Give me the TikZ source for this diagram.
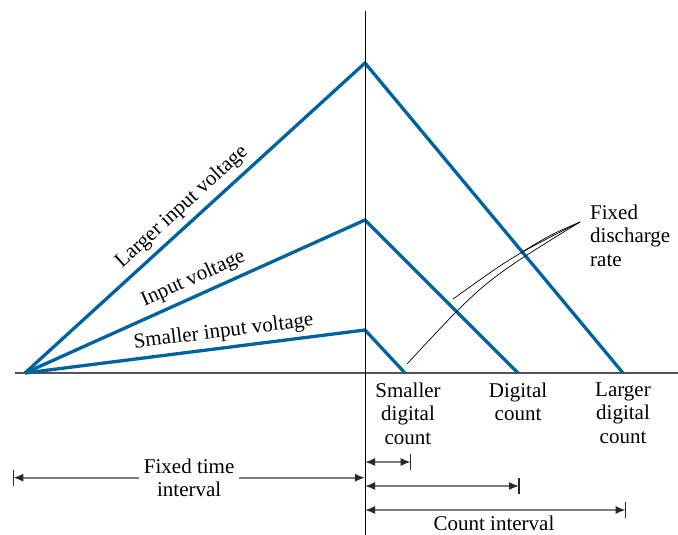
\documentclass[tikz,border=0pt]{standalone}
\usepackage{fontspec}
\setmainfont{Liberation Serif}
\usetikzlibrary{arrows.meta}
\definecolor{voltblue}{RGB}{0,99,158}
\definecolor{dimgrey}{RGB}{125,125,125}
\definecolor{tipgrey}{RGB}{40,40,40}
\definecolor{axisgrey}{RGB}{85,85,85}
\tikzset{
  volt/.style={draw=voltblue, line width=3.3pt, line join=miter},
  haxis/.style={draw=axisgrey, line width=2pt},
  vaxis/.style={draw=black, line width=1pt},
  dimline/.style={draw=dimgrey, line width=1.6pt,
    {Latex[length=10pt,width=8pt,color=tipgrey]}-{Latex[length=10pt,width=8pt,color=tipgrey]}},
  dimbar/.style={draw=tipgrey, line width=1.5pt},
  leader/.style={draw=black, line width=0.7pt},
  lbl/.style={font=\fontsize{21}{23.5}\selectfont, inner sep=0pt, align=center},
  slopelbl/.style={font=\fontsize{21}{23.5}\selectfont, sloped, inner sep=0pt}
}
\begin{document}
\begin{tikzpicture}[x=1pt,y=-1pt]
\useasboundingbox (0,0) rectangle (678,535);
% key points
\coordinate (O) at (25,373);
\coordinate (PL) at (365,63);
\coordinate (EL) at (623,373);
\coordinate (PI) at (365,220);
\coordinate (EI) at (518,373);
\coordinate (PS) at (365,330);
\coordinate (ES) at (405,373);
\coordinate (HA) at (15,373);
\coordinate (HB) at (678,373);
\coordinate (VA) at (365,11);
\coordinate (VB) at (365,535);
% horizontal axis
\draw[haxis] (HA) -- (HB);
% voltage ramps
\draw[volt] (O) -- node[slopelbl, above=5.5pt, pos=0.495] {Larger input voltage} (PL) -- (EL);
\draw[volt] (O) -- node[slopelbl, above=5.5pt, pos=0.515] {Input voltage} (PI) -- (EI);
\draw[volt] (O) -- node[slopelbl, above=4.5pt, pos=0.59] {Smaller input voltage} (PS) -- (ES);
% vertical axis
\draw[vaxis] (VA) -- (VB);
% bottom labels
\node[lbl, anchor=north] (sdc) at (408,382.5) {Smaller\\digital\\count};
\node[lbl, anchor=north] (dc) at (518,382.5) {Digital\\count};
\node[lbl, anchor=north] (ldc) at (623,382.5) {Larger\\digital\\count};
% fixed discharge rate
\node[lbl, align=left, anchor=north west] (fdr) at (590,204.5) {Fixed\\discharge\\rate};
\coordinate (F) at (580,222);
\coordinate (L1) at (522,252);
\coordinate (L2) at (453,299);
\coordinate (L3) at (407,364);
\draw[leader] (F) .. controls (550,235) .. (L1);
\draw[leader] (F) .. controls (513,256) .. (L2);
\draw[leader] (F) .. controls (484,281) .. (L3);
% fixed time interval
\coordinate (T1) at (13.3,477.7);
\coordinate (T2) at (365,477.7);
\draw[dimline] (T1) -- node[lbl, fill=white, inner xsep=5pt, inner ysep=0pt] (fti) {Fixed time\\interval} (T2);
\draw[dimbar] (T1) ++(0,-8) -- ++(0,16);
% count arrows
\coordinate (C1a) at (365,462);
\coordinate (C1b) at (410.7,462);
\coordinate (C2a) at (365,486);
\coordinate (C2b) at (519,486);
\coordinate (C3a) at (365,510);
\coordinate (C3b) at (625.7,510);
\draw[dimline] (C1a) -- (C1b);
\draw[dimbar] (C1b) ++(0,-8) -- ++(0,16);
\draw[dimline] (C2a) -- (C2b);
\draw[dimbar] (C2b) ++(0,-8) -- ++(0,16);
\draw[dimline] (C3a) -- (C3b);
\draw[dimbar] (C3b) ++(0,-8) -- ++(0,16);
\node[lbl, anchor=base] (ci) at (494,530) {Count interval};
\end{tikzpicture}
\end{document}
